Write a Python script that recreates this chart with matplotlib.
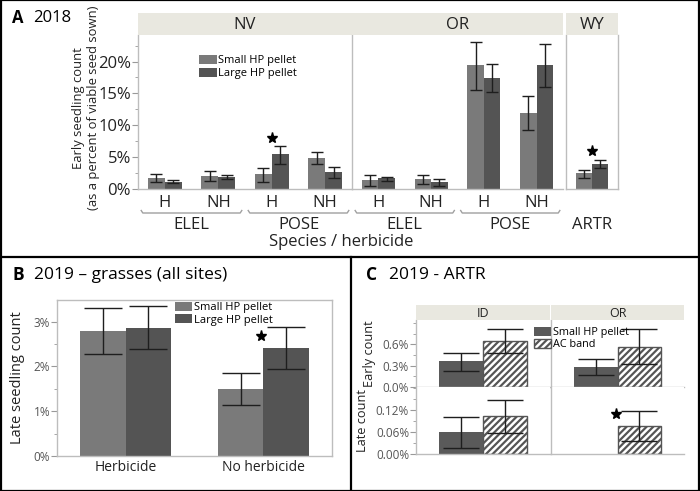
import matplotlib
matplotlib.use("Agg")
import matplotlib.pyplot as plt
import numpy as np
from matplotlib import transforms
from matplotlib.patches import Rectangle
from matplotlib.lines import Line2D
from matplotlib.ticker import MultipleLocator, FuncFormatter, FixedLocator

plt.rcParams['font.family'] = ['Open Sans', 'DejaVu Sans']
plt.rcParams['hatch.linewidth'] = 1.6

# ---------------- data ----------------
# Panel A (2018), percent of viable seed sown
a_herb = ['H', 'NH', 'H', 'NH']
a_species = ['ELEL', 'POSE']
nv_small = [1.7, 2.1, 2.35, 4.9]
nv_small_lo = [1.06, 1.25, 1.15, 3.9]
nv_small_hi = [2.3, 2.8, 3.25, 5.86]
nv_large = [1.15, 1.9, 5.44, 2.7]
nv_large_lo = [0.9, 1.5, 3.9, 1.8]
nv_large_hi = [1.4, 2.25, 6.8, 3.5]
or_small = [1.36, 1.52, 19.45, 12.0]
or_small_lo = [0.52, 0.84, 15.6, 9.3]
or_small_hi = [2.15, 2.15, 23.1, 14.6]
or_large = [1.68, 1.15, 17.4, 19.45]
or_large_lo = [1.2, 0.52, 15.2, 16.0]
or_large_hi = [1.93, 1.57, 19.66, 22.8]
wy_small = [2.46]
wy_small_lo = [1.8]
wy_small_hi = [3.0]
wy_large = [3.9]
wy_large_lo = [3.3]
wy_large_hi = [4.5]
a_star_nv = (2, 8.0)
a_star_wy = (0, 6.0)

# Panel B (2019 grasses)
b_cats = ['Herbicide', 'No herbicide']
b_small = [2.79, 1.50]
b_small_lo = [2.27, 1.13]
b_small_hi = [3.30, 1.85]
b_large = [2.86, 2.41]
b_large_lo = [2.38, 1.94]
b_large_hi = [3.34, 2.89]
b_star = (0.98, 2.67)

# Panel C (2019 ARTR)
c_sites = ['ID', 'OR']
c_early_small = [0.36, 0.28]
c_early_small_lo = [0.229, 0.164]
c_early_small_hi = [0.477, 0.393]
c_early_ac = [0.64, 0.565]
c_early_ac_lo = [0.472, 0.318]
c_early_ac_hi = [0.818, 0.818]
c_late_small = [0.0596, np.nan]
c_late_small_lo = [0.0156, np.nan]
c_late_small_hi = [0.1025, np.nan]
c_late_ac = [0.1035, 0.076]
c_late_ac_lo = [0.057, 0.035]
c_late_ac_hi = [0.149, 0.118]
c_star_or_late = (-0.01, 0.11)
c_early_ticks = [0.0, 0.3, 0.6]
c_late_ticks = [0.0, 0.06, 0.12]

# ---------------- style ----------------
C_SMALL = '#7a7a7a'
C_LARGE = '#545454'
C_DARK = '#5a5a5a'
STRIP = '#e9e8e0'
GRID = '#bdbdbd'
ERR = '#1e1e1e'
STAR = 8

W, H = 700, 491
fig = plt.figure(figsize=(7.0, 4.91), dpi=100)


def add_ax(x0, y0, x1, y1, **kw):
    return fig.add_axes([x0 / W, 1 - y1 / H, (x1 - x0) / W, (y1 - y0) / H], **kw)


def strip(x0, y0, x1, y1, label, size):
    s = add_ax(x0, y0, x1, y1)
    s.set_facecolor(STRIP)
    s.set_xticks([]); s.set_yticks([])
    for sp in s.spines.values():
        sp.set_visible(False)
    s.text(0.5, 0.45, label, ha='center', va='center', fontsize=size,
           color='#222222', transform=s.transAxes)
    return s


def errs(vals, lo, hi):
    v = np.array(vals, float)
    return np.vstack([v - np.array(lo, float), np.array(hi, float) - v])


def style_spines(ax, left=False, right=False, top=False, bottom=True):
    for name, vis in (('left', left), ('right', right), ('top', top), ('bottom', bottom)):
        ax.spines[name].set_visible(vis)
        ax.spines[name].set_color(GRID)
        ax.spines[name].set_linewidth(1.0)


LEG = dict(frameon=False, handlelength=1.6, handleheight=0.9, handletextpad=0.15,
           labelspacing=0.1, borderaxespad=0, borderpad=0)

# ================= Panel A =================
A_TOP, A_BOT = 35, 189
YMAX_A = (A_BOT - A_TOP) / 6.375
panels_A = [
    ('NV', 138, 352, 4, nv_small, nv_small_lo, nv_small_hi, nv_large, nv_large_lo, nv_large_hi),
    ('OR', 352, 563, 4, or_small, or_small_lo, or_small_hi, or_large, or_large_lo, or_large_hi),
    ('WY', 566, 618, 1, wy_small, wy_small_lo, wy_small_hi, wy_large, wy_large_lo, wy_large_hi),
]
bw = 0.315
axesA = []
for (site, x0, x1, n, s, slo, shi, l, llo, lhi) in panels_A:
    ax = add_ax(x0, A_TOP, x1, A_BOT)
    axesA.append(ax)
    x = np.arange(n)
    ax.bar(x - bw / 2, s, bw, color=C_SMALL, label='Small HP pellet')
    ax.bar(x + bw / 2, l, bw, color=C_LARGE, label='Large HP pellet')
    ax.errorbar(x - bw / 2, s, yerr=errs(s, slo, shi), fmt='none', ecolor=ERR,
                elinewidth=1.0, capsize=4.2, capthick=1.0)
    ax.errorbar(x + bw / 2, l, yerr=errs(l, llo, lhi), fmt='none', ecolor=ERR,
                elinewidth=1.0, capsize=4.2, capthick=1.0)
    ax.set_xlim(-0.5, n - 0.5)
    ax.set_ylim(0, YMAX_A)
    ax.tick_params(axis='x', length=0, labelsize=12, pad=4, labelcolor='#222222')
    if n == 4:
        ax.set_xticks(x, a_herb)
    else:
        ax.set_xticks([])
    if site == 'NV':
        style_spines(ax, left=True)
        ax.yaxis.set_major_locator(MultipleLocator(5))
        ax.yaxis.set_minor_locator(MultipleLocator(2.5))
        ax.yaxis.set_major_formatter(FuncFormatter(lambda v, p: f'{v:.0f}%'))
        ax.tick_params(axis='y', which='major', length=4, color='#999999',
                       labelsize=12, labelcolor='#222222', pad=1)
        ax.tick_params(axis='y', which='minor', length=2.5, color='#999999')
    elif site == 'OR':
        style_spines(ax, left=True)
        ax.set_yticks([])
    else:
        style_spines(ax, left=True, right=True)
        ax.set_yticks([])
    strip(x0, 13, x1, A_TOP, site, 12)

    trans = transforms.blended_transform_factory(ax.transData, fig.transFigure)
    if n == 4:
        yb = 1 - 213 / H
        yc = 2.5 / H
        for gi, sp in enumerate(a_species):
            xa = 2 * gi - 0.44
            xb = 2 * gi + 1 + 0.44
            ax.add_line(Line2D([xa, xa + 0.03, xb - 0.03, xb], [yb + yc, yb, yb, yb + yc],
                               transform=trans, color='#a0a0a0', lw=1.0, clip_on=False))
            ax.text(2 * gi + 0.5, 1 - 225 / H, sp, transform=trans, ha='center',
                    va='center', fontsize=12, color='#222222')
    else:
        ax.text(0, 1 - 225 / H, 'ARTR', transform=trans, ha='center', va='center',
                fontsize=12, color='#222222')

axesA[0].plot(*a_star_nv, marker='*', color='black', markersize=STAR, clip_on=False)
axesA[2].plot(*a_star_wy, marker='*', color='black', markersize=STAR, clip_on=False)
axesA[0].legend(loc='upper left', bbox_to_anchor=(0.285, 0.87), fontsize=8, **LEG)

fig.text(86 / W, 1 - 108 / H, 'Early seedling count\n(as a percent of viable seed sown)',
         rotation=90, ha='center', va='center', fontsize=9.4, color='#222222',
         linespacing=1.25)
fig.text(341 / W, 1 - 242 / H, 'Species / herbicide', ha='center', va='center',
         fontsize=12, color='#222222')
fig.text(12 / W, 1 - 18 / H, 'A', ha='left', va='center', fontsize=12, fontweight='bold')
fig.text(33 / W, 1 - 18 / H, '2018', ha='left', va='center', fontsize=12)

# ================= Panel B =================
axB = add_ax(57, 300, 332, 456)
xb = np.arange(len(b_cats))
bwb = 0.33
axB.bar(xb - bwb / 2, b_small, bwb, color=C_SMALL, label='Small HP pellet')
axB.bar(xb + bwb / 2, b_large, bwb, color=C_LARGE, label='Large HP pellet')
axB.errorbar(xb - bwb / 2, b_small, yerr=errs(b_small, b_small_lo, b_small_hi), fmt='none',
             ecolor=ERR, elinewidth=1.0, capsize=14, capthick=1.0)
axB.errorbar(xb + bwb / 2, b_large, yerr=errs(b_large, b_large_lo, b_large_hi), fmt='none',
             ecolor=ERR, elinewidth=1.0, capsize=14, capthick=1.0)
axB.plot(*b_star, marker='*', color='black', markersize=STAR)
axB.set_xlim(-0.5, 1.5)
axB.set_ylim(0, (456 - 300) / 44.8)
axB.set_xticks(xb, b_cats)
axB.tick_params(axis='x', length=0, labelsize=10, pad=3, labelcolor='#222222')
axB.yaxis.set_major_locator(MultipleLocator(1))
axB.yaxis.set_minor_locator(MultipleLocator(0.5))
axB.yaxis.set_major_formatter(FuncFormatter(lambda v, p: f'{v:.0f}%'))
axB.tick_params(axis='y', which='major', length=4, color='#999999', labelsize=8.5,
                labelcolor='#555555', pad=1)
axB.tick_params(axis='y', which='minor', length=2.5, color='#999999')
style_spines(axB, left=True, right=True, top=True, bottom=True)
axB.set_ylabel('Late seedling count', fontsize=10.5, color='#222222', labelpad=6)
axB.legend(loc='upper left', bbox_to_anchor=(0.428, 0.99), fontsize=8, **LEG)
fig.text(12 / W, 1 - 275 / H, 'B', ha='left', va='center', fontsize=12.5, fontweight='bold')
fig.text(34 / W, 1 - 275 / H, '2019 \u2013 grasses (all sites)', ha='left', va='center',
         fontsize=12.5)

# ================= Panel C =================
cx = [(416, 550), (551, 684)]
C_TOP, C_MID, C_BOT = 320, 387, 454
bwc = 0.33
rows = [
    ('Early count', C_TOP, C_MID, c_early_small, c_early_small_lo, c_early_small_hi,
     c_early_ac, c_early_ac_lo, c_early_ac_hi, (C_MID - C_TOP) / 71.2, c_early_ticks, 0.15, 1),
    ('Late count', C_MID, C_BOT, c_late_small, c_late_small_lo, c_late_small_hi,
     c_late_ac, c_late_ac_lo, c_late_ac_hi, (C_BOT - C_MID) / 364.0, c_late_ticks, 0.03, 2),
]
axesC = {}
for ri, (lab, y0, y1, s, slo, shi, a, alo, ahi, ymax, ticks, mnr, dec) in enumerate(rows):
    for ci, (x0, x1) in enumerate(cx):
        ax = add_ax(x0, y0, x1, y1)
        axesC[(ri, ci)] = ax
        ax.bar([-bwc / 2], [s[ci]], bwc, color=C_DARK, label='Small HP pellet')
        ax.bar([bwc / 2], [a[ci]], bwc, color='white', edgecolor='#555555',
               hatch='/////', linewidth=1.0, label='AC band')
        if not np.isnan(s[ci]):
            ax.errorbar([-bwc / 2], [s[ci]], yerr=[[s[ci] - slo[ci]], [shi[ci] - s[ci]]],
                        fmt='none', ecolor=ERR, elinewidth=1.0, capsize=13, capthick=1.0)
        ax.errorbar([bwc / 2], [a[ci]], yerr=[[a[ci] - alo[ci]], [ahi[ci] - a[ci]]],
                    fmt='none', ecolor=ERR, elinewidth=1.0, capsize=13, capthick=1.0)
        ax.set_xlim(-0.5, 0.5)
        ax.set_ylim(0, ymax)
        ax.set_xticks([])
        style_spines(ax, left=True, right=False, top=False, bottom=True)
        if ci == 0:
            ax.yaxis.set_major_locator(FixedLocator(ticks))
            ax.yaxis.set_minor_locator(MultipleLocator(mnr))
            ax.yaxis.set_major_formatter(FuncFormatter(lambda v, p, d=dec: f'{v:.{d}f}%'))
            ax.tick_params(axis='y', which='major', length=4, color='#999999',
                           labelsize=8.5, labelcolor='#555555', pad=1)
            ax.tick_params(axis='y', which='minor', length=2.5, color='#999999')
            ax.set_ylabel(lab, fontsize=9.2, color='#222222', labelpad=5)
        else:
            ax.set_yticks([])
        if ri == 0:
            strip(x0, 305, x1, C_TOP, c_sites[ci], 9)

axesC[(1, 1)].plot(*c_star_or_late, marker='*', color='black', markersize=STAR)
axesC[(0, 1)].legend(loc='upper left', bbox_to_anchor=(-0.13, 0.90), fontsize=7.8, **LEG)
fig.text(366 / W, 1 - 275 / H, 'C', ha='left', va='center', fontsize=12.5, fontweight='bold')
fig.text(389 / W, 1 - 275 / H, '2019 - ARTR', ha='left', va='center', fontsize=12.5)

# ================= frame =================
lw = 1.6
fig.add_artist(Rectangle((0.001, 0.001), 0.998, 0.998, transform=fig.transFigure,
                         fill=False, edgecolor='black', linewidth=lw))
fig.add_artist(Line2D([0, 1], [1 - 257 / H, 1 - 257 / H], transform=fig.transFigure,
                      color='black', linewidth=lw))
fig.add_artist(Line2D([351 / W, 351 / W], [0, 1 - 257 / H], transform=fig.transFigure,
                      color='black', linewidth=lw))

fig.savefig('out.png', dpi=100)
